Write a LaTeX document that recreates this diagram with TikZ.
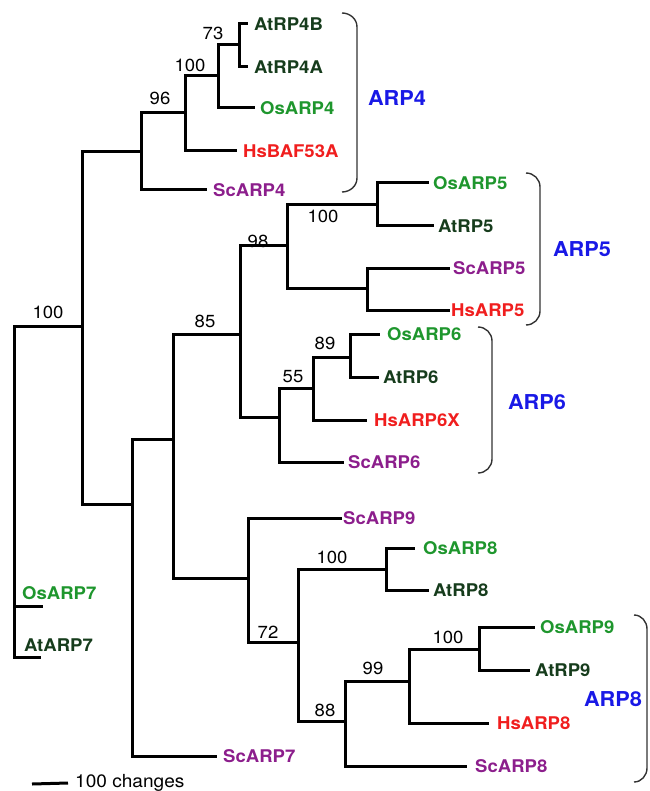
\documentclass[tikz,border=0pt]{standalone}
\usepackage{fontspec}
\setmainfont{TeX Gyre Heros}[FakeStretch=1.06]
\definecolor{atgreen}{RGB}{22,60,28}
\definecolor{osgreen}{RGB}{30,150,45}
\definecolor{hsred}{RGB}{240,30,30}
\definecolor{scpurple}{RGB}{140,30,140}
\definecolor{arpblue}{RGB}{25,25,230}
\definecolor{brgray}{RGB}{50,50,50}
\tikzset{
  br/.style={line width=3pt, line cap=rect},
  leaf/.style={anchor=west, inner ysep=0pt, font=\fontsize{17.5}{20}\selectfont\bfseries},
  atleaf/.style={leaf, text=atgreen},
  osleaf/.style={leaf, text=osgreen},
  hsleaf/.style={leaf, text=hsred},
  scleaf/.style={leaf, text=scpurple},
  boot/.style={inner sep=0pt, font=\fontsize{17.5}{20}\selectfont},
  grp/.style={inner sep=0pt, text=arpblue, font=\fontsize{20.5}{23}\selectfont\bfseries},
  bracket/.style={line width=1.4pt, draw=brgray}
}
\begin{document}
\begin{tikzpicture}[x=1pt,y=-1pt]
\useasboundingbox (0,0) rectangle (649,791);
% internal nodes
\coordinate (R0) at (14,326);
\coordinate (U) at (82,326);
\coordinate (A) at (141,152);
\coordinate (B) at (185,113);
\coordinate (C) at (218,76);
\coordinate (D) at (239,45);
\coordinate (T) at (132,504);
\coordinate (K) at (173,439);
\coordinate (S) at (240,334);
\coordinate (F) at (287,246);
\coordinate (E) at (377,205);
\coordinate (G) at (367,288);
\coordinate (H) at (279,417);
\coordinate (I) at (313,388);
\coordinate (J) at (350,357);
\coordinate (L) at (248,578);
\coordinate (M) at (298,642);
\coordinate (N) at (386,569);
\coordinate (O) at (345,721);
\coordinate (P) at (409,681);
\coordinate (Q) at (479,649);
\coordinate (c7a) at (41,606);
\coordinate (c7b) at (39,657);
% leaves
\node[atleaf, inner xsep=8pt] (AtRP4B) at (246,24) {AtRP4B};
\node[atleaf, inner xsep=8pt] (AtRP4A) at (246,67) {AtRP4A};
\node[osleaf, inner xsep=7pt] (OsARP4) at (253,108) {OsARP4};
\node[hsleaf, inner xsep=8pt] (HsBAF53A) at (235,151) {HsBAF53A};
\node[scleaf, inner xsep=8pt] (ScARP4) at (205,190) {ScARP4};
\node[osleaf, inner xsep=6pt] (OsARP5) at (427,183) {OsARP5};
\node[atleaf, inner xsep=6pt] (AtRP5) at (432,226) {AtRP5};
\node[scleaf, inner xsep=5pt] (ScARP5) at (448,268) {ScARP5};
\node[hsleaf, inner xsep=3pt] (HsARP5) at (448,310) {HsARP5};
\node[osleaf, inner xsep=9pt] (OsARP6) at (378,334) {OsARP6};
\node[atleaf, inner xsep=6pt] (AtRP6) at (377,377) {AtRP6};
\node[hsleaf, inner xsep=9pt] (HsARP6X) at (365,420) {HsARP6X};
\node[scleaf, inner xsep=6pt] (ScARP6) at (342,462) {ScARP6};
\node[scleaf, inner xsep=3pt] (ScARP9) at (340,518) {ScARP9};
\node[osleaf, inner xsep=10pt] (OsARP8) at (413,548) {OsARP8};
\node[atleaf, inner xsep=6pt] (AtRP8) at (427,590) {AtRP8};
\node[osleaf, inner xsep=7pt] (OsARP9) at (533,627) {OsARP9};
\node[atleaf, inner xsep=7pt] (AtRP9) at (528,670) {AtRP9};
\node[hsleaf, inner xsep=10pt] (HsARP8) at (487,723) {HsARP8};
\node[scleaf, inner xsep=10pt] (ScARP8) at (465,766) {ScARP8};
\node[scleaf, inner xsep=8pt] (ScARP7) at (215,756) {ScARP7};
\node[osleaf, inner xsep=0pt] (OsARP7) at (22,593) {OsARP7};
\node[atleaf, inner xsep=0pt] (AtARP7) at (24,645) {AtARP7};
% branches
\draw[br] (R0) -- (U);
\draw[br] (R0) |- (c7a);
\draw[br] (R0) |- (c7b);
\draw[br] (U) |- (A);
\draw[br] (U) |- (T);
\draw[br] (A) |- (B);
\draw[br] (A) |- (ScARP4.west);
\draw[br] (B) |- (C);
\draw[br] (B) |- (HsBAF53A.west);
\draw[br] (C) |- (D);
\draw[br] (C) |- (OsARP4.west);
\draw[br] (D) |- (AtRP4B.west);
\draw[br] (D) |- (AtRP4A.west);
\draw[br] (T) |- (K);
\draw[br] (T) |- (ScARP7.west);
\draw[br] (K) |- (S);
\draw[br] (K) |- (L);
\draw[br] (S) |- (F);
\draw[br] (S) |- (H);
\draw[br] (F) |- (E);
\draw[br] (F) |- (G);
\draw[br] (E) |- (OsARP5.west);
\draw[br] (E) |- (AtRP5.west);
\draw[br] (G) |- (ScARP5.west);
\draw[br] (G) |- (HsARP5.west);
\draw[br] (H) |- (I);
\draw[br] (H) |- (ScARP6.west);
\draw[br] (I) |- (J);
\draw[br] (I) |- (HsARP6X.west);
\draw[br] (J) |- (OsARP6.west);
\draw[br] (J) |- (AtRP6.west);
\draw[br] (L) |- (ScARP9.west);
\draw[br] (L) |- (M);
\draw[br] (M) |- (N);
\draw[br] (M) |- (O);
\draw[br] (N) |- (OsARP8.west);
\draw[br] (N) |- (AtRP8.west);
\draw[br] (O) |- (P);
\draw[br] (O) |- (ScARP8.west);
\draw[br] (P) |- (Q);
\draw[br] (P) |- (HsARP8.west);
\draw[br] (Q) |- (OsARP9.west);
\draw[br] (Q) |- (AtRP9.west);
% bootstrap values
\node[boot] (b73) at (213,33) {73};
\node[boot] (b100a) at (190,65) {100};
\node[boot] (b96) at (160,98) {96};
\node[boot] (b98) at (258,241) {98};
\node[boot] (b100b) at (323,216) {100};
\node[boot] (b100c) at (48,312) {100};
\node[boot] (b85) at (205,321) {85};
\node[boot] (b89) at (325,343) {89};
\node[boot] (b55) at (293,377) {55};
\node[boot] (b100d) at (332,557) {100};
\node[boot] (b72) at (268,632) {72};
\node[boot] (b88) at (325,710) {88};
\node[boot] (b99) at (373,668) {99};
\node[boot] (b100e) at (448,637) {100};
% groups
\draw[bracket] (342,13) to[out=0,in=90] (357,27) -- (357,178) to[out=-90,in=0] (342,192);
\draw[bracket] (526,173) to[out=0,in=90] (540,187) -- (540,311) to[out=-90,in=0] (526,325);
\draw[bracket] (478,327) to[out=0,in=90] (492,341) -- (492,459) to[out=-90,in=0] (478,473);
\draw[bracket] (634,615) to[out=0,in=90] (647,629) -- (647,768) to[out=-90,in=0] (634,782);
\node[grp] (gARP4) at (397,98) {ARP4};
\node[grp] (gARP5) at (582,249) {ARP5};
\node[grp] (gARP6) at (537,402) {ARP6};
\node[grp] (gARP8) at (613,699) {ARP8};
% scale bar
\coordinate (sb1) at (32,784);
\node[anchor=west, inner xsep=7pt, inner ysep=0pt, font=\fontsize{18}{20}\selectfont] (sbt) at (68,783) {100 changes};
\draw[line width=3pt] (sb1) -- (sbt.west);
\end{tikzpicture}
\end{document}
